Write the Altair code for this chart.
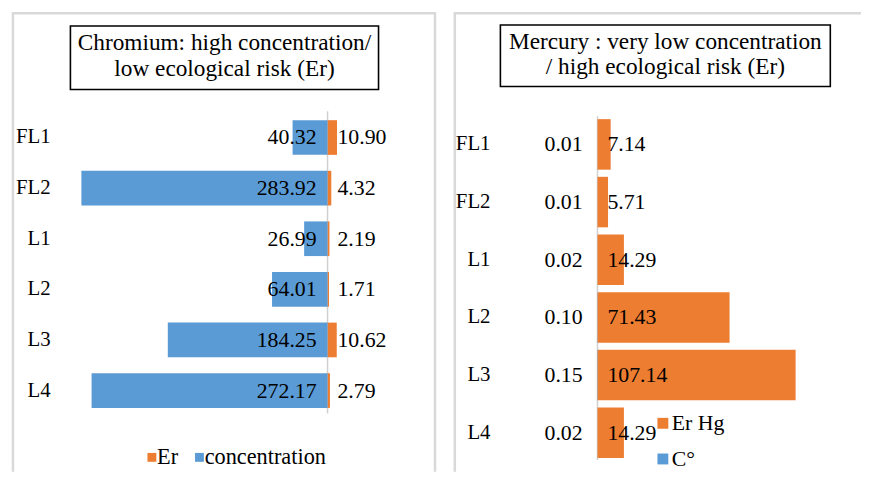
import altair as alt
import pandas as pd

# ---------------- data ----------------
sites = ["FL1", "FL2", "L1", "L2", "L3", "L4"]
cr_concentration = [40.32, 283.92, 26.99, 64.01, 184.25, 272.17]
cr_er = [10.90, 4.32, 2.19, 1.71, 10.62, 2.79]
hg_er = [7.14, 5.71, 14.29, 71.43, 107.14, 14.29]
hg_conc = [0.01, 0.01, 0.02, 0.10, 0.15, 0.02]
cr_series = ["Er", "concentration"]
hg_series = ["Er Hg", "C°"]
cr_title = ["Chromium: high concentration/", "low ecological risk (Er)"]
hg_title = ["Mercury : very low concentration", "/ high ecological risk (Er)"]

ORANGE = "#ED7D31"
BLUE = "#5B9BD5"
AXIS = "#d0d0d0"
BORDER = "#d9d9d9"
FONT = "Liberation Serif"

LW, RW, H = 428, 411, 464

cr_df = pd.DataFrame({
    "site": sites * 2,
    "series": [cr_series[0]] * len(sites) + [cr_series[1]] * len(sites),
    "value": cr_er + cr_concentration,
})
hg_df = pd.DataFrame({
    "site": sites * 2,
    "series": [hg_series[0]] * len(sites) + [hg_series[1]] * len(sites),
    "value": hg_er + hg_conc,
})
site_df = pd.DataFrame({"site": sites})
one = pd.DataFrame({"z": [0]})


def panel(df, width, xdom, yrange, pad_inner, series, colors, legend, title,
          title_box, title_xy, title_lh, cat_x, rule_y, neg_series, neg_dx, pos_dx):
    xsc = alt.Scale(domain=xdom, nice=False, zero=False)
    ysc = alt.Scale(domain=sites, range=yrange, paddingInner=pad_inner,
                    paddingOuter=pad_inner / 2)
    base = alt.Chart(df).transform_calculate(
        signed=f"datum.series == '{neg_series}' ? -datum.value : datum.value"
    )
    bars = base.mark_bar().encode(
        x=alt.X("signed:Q", scale=xsc, axis=None, stack=None),
        x2=alt.datum(0),
        y=alt.Y("site:N", scale=ysc, axis=None),
        color=alt.Color("series:N", scale=alt.Scale(domain=series, range=colors),
                        legend=legend),
    )
    neg_lbl = base.transform_filter(f"datum.series == '{series[1]}'").mark_text(
        align="right", baseline="middle", dx=neg_dx, font=FONT, fontSize=22, color="black"
    ).encode(
        x=alt.datum(0),
        y=alt.Y("site:N", scale=ysc, axis=None),
        text=alt.Text("value:Q", format=".2f"),
    )
    pos_lbl = base.transform_filter(f"datum.series == '{series[0]}'").mark_text(
        align="left", baseline="middle", dx=pos_dx, font=FONT, fontSize=22, color="black"
    ).encode(
        x=alt.datum(0),
        y=alt.Y("site:N", scale=ysc, axis=None),
        text=alt.Text("value:Q", format=".2f"),
    )
    zero_rule = alt.Chart(one).mark_rule(color=AXIS, strokeWidth=1.5).encode(
        x=alt.X("z:Q", scale=xsc, axis=None),
        y=alt.value(rule_y[0]), y2=alt.value(rule_y[1]),
    )
    cats = alt.Chart(site_df).mark_text(
        align="right", baseline="middle", font=FONT, fontSize=21, color="black"
    ).encode(
        x=alt.value(cat_x),
        y=alt.Y("site:N", scale=ysc, axis=None),
        text="site:N",
    )
    box = alt.Chart(one).mark_rect(fill="white", stroke="black", strokeWidth=1.6).encode(
        x=alt.value(title_box[0]), x2=alt.value(title_box[1]),
        y=alt.value(title_box[2]), y2=alt.value(title_box[3]),
    )
    ttl = alt.Chart(one).mark_text(
        text=title, align="center", baseline="middle", font=FONT, fontSize=23.5,
        lineHeight=title_lh, color="black"
    ).encode(x=alt.value(title_xy[0]), y=alt.value(title_xy[1]))
    left_b = alt.Chart(one).mark_rule(color=BORDER, strokeWidth=2.5).encode(
        x=alt.value(1), y=alt.value(0), y2=alt.value(H))
    top_b = alt.Chart(one).mark_rule(color=BORDER, strokeWidth=2.5).encode(
        y=alt.value(1), x=alt.value(0), x2=alt.value(width))
    layers = [left_b, top_b]
    return layers, [zero_rule, bars, neg_lbl, pos_lbl, cats, box, ttl]


cr_legend = alt.Legend(
    orient="none", legendX=130, legendY=438, direction="horizontal", title=None,
    symbolType="square", symbolSize=80, symbolStrokeWidth=0, labelFont=FONT,
    labelFontSize=22.5, labelColor="black", labelOffset={"expr": "-6"}, columnPadding=10,
)
hg_legend = alt.Legend(
    orient="none", legendX=200, legendY=404, direction="vertical", title=None,
    symbolType="square", symbolSize=121, symbolStrokeWidth=0, labelFont=FONT,
    labelFontSize=22, labelColor="black", labelOffset={"expr": "-2"}, rowPadding=14,
)

lb, lrest = panel(
    cr_df, LW, [-364, 125.1], [101, 407.5], 0.315, cr_series, [ORANGE, BLUE],
    cr_legend, cr_title, (59, 370, 14, 78), (214.5, 31), 26, 39, (100, 405),
    "concentration", -11, 10,
)
right_edge = alt.Chart(one).mark_rule(color=BORDER, strokeWidth=2.5).encode(
    x=alt.value(LW - 1), y=alt.value(0), y2=alt.value(H))
left = alt.layer(*lb, right_edge, *lrest).properties(width=LW, height=H)

rb, rrest = panel(
    hg_df, RW, [-77.67, 142.5], [104.4, 453.6], 0.124, hg_series, [ORANGE, BLUE],
    hg_legend, hg_title, (47, 380, 13, 75), (213.5, 30), 25, 37, (105, 452),
    "__none__", -15, 10,
)
right = alt.layer(*rb, *rrest).properties(width=RW, height=H)

chart = alt.hconcat(left, right, spacing=14).resolve_scale(
    color="independent", x="independent", y="independent"
).properties(
    padding={"left": 2, "top": 0, "right": 0, "bottom": 0}
).configure_view(strokeWidth=0)

chart.save("out.html", embed_options={"renderer": "svg", "actions": False})
